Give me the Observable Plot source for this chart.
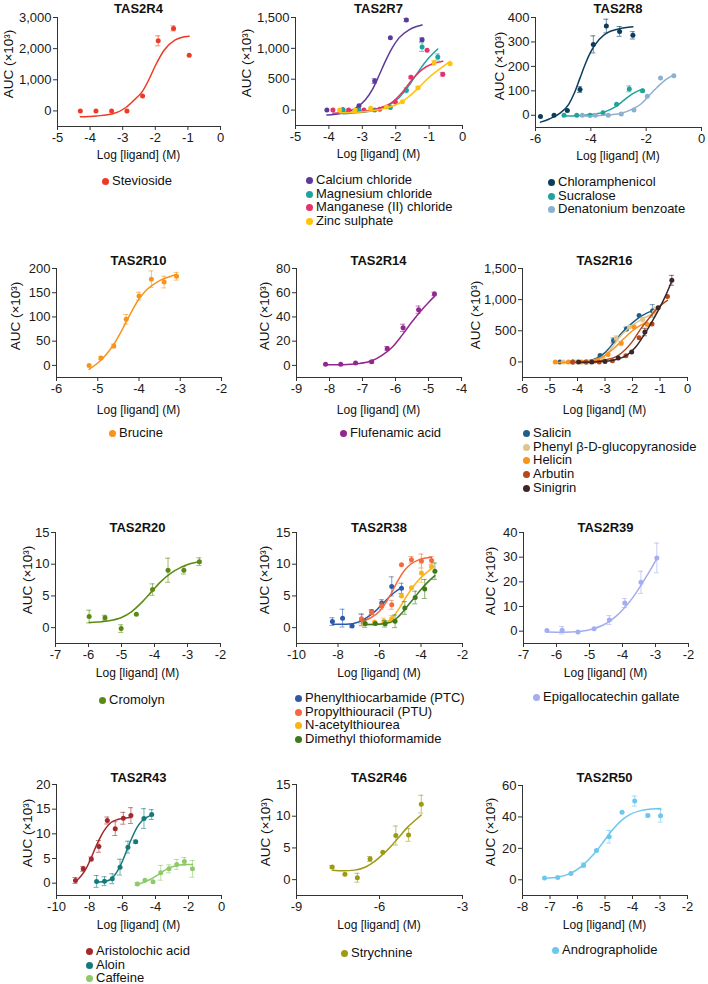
<!DOCTYPE html>
<html><head><meta charset="utf-8">
<script src="https://cdn.jsdelivr.net/npm/d3@7"></script>
<script src="https://cdn.jsdelivr.net/npm/@observablehq/plot@0.6"></script>
<style>
body{margin:0;background:#fff;font-family:"Liberation Sans",Arial,sans-serif;}
#root{position:relative;width:708px;height:984px;overflow:hidden;background:#fff;}
.abs{position:absolute;white-space:nowrap;color:#111;}
.title{font-weight:bold;font-size:13px;transform:translate(-50%,-50%);}
.xlab{font-size:12px;transform:translate(-50%,-50%);}
.ylab{font-size:13.5px;transform:translate(-50%,-50%) rotate(-90deg);}
.leg{font-size:13px;line-height:13.7px;}
.leg .d{display:inline-block;width:7px;height:7px;border-radius:50%;margin-right:3.5px;vertical-align:0px;}
svg{position:absolute;overflow:visible;}
</style></head><body><div id="root"></div>
<script>
// ---- data: [log concentration, AUC (x10^3), error] and fitted-curve points ----
// TAS2R4
const stevioside = [[-4.30,0,0],[-3.82,0,0],[-3.34,0,0],[-2.87,0,0],[-2.39,480,0],[-1.91,2250,160],[-1.44,2650,80],[-0.96,1790,0]];
const steviosideFit = [[-4.30,-190],[-3.8,-160],[-3.3,-90],[-2.9,110],[-2.6,400],[-2.4,620],[-2.2,1000],[-2.0,1450],[-1.73,1950],[-1.4,2270],[-1.2,2360],[-0.96,2400]];
// TAS2R7
const calcium = [[-4.06,0,0],[-3.58,5,0],[-3.10,70,0],[-2.63,470,40],[-2.16,1170,0],[-1.68,1460,25],[-1.21,1140,30]];
const calciumFit = [[-4.06,-80],[-3.6,-50],[-3.2,30],[-2.9,170],[-2.7,330],[-2.5,560],[-2.3,800],[-2.1,1010],[-1.9,1170],[-1.6,1300],[-1.4,1350],[-1.21,1380]];
const magnesium = [[-3.58,0,0],[-3.10,0,0],[-2.63,0,0],[-2.16,40,0],[-1.68,320,40],[-1.21,1020,70],[-0.74,860,50]];
const magnesiumFit = [[-3.58,-60],[-3.1,-40],[-2.6,0],[-2.2,80],[-1.9,200],[-1.6,400],[-1.3,640],[-1.0,850],[-0.74,990]];
const manganese = [[-3.88,0,0],[-3.41,0,0],[-2.95,0,0],[-2.48,15,0],[-2.01,130,0],[-1.54,530,20],[-1.06,970,0],[-0.59,580,30]];
const manganeseFit = [[-3.88,-50],[-3.4,-40],[-2.9,-15],[-2.5,30],[-2.1,130],[-1.8,290],[-1.5,500],[-1.2,660],[-0.9,750],[-0.59,790]];
const zinc = [[-3.68,0,0],[-3.22,0,0],[-2.75,30,0],[-2.28,50,0],[-1.80,135,0],[-1.33,360,20],[-0.85,765,40],[-0.37,750,0]];
const zincFit = [[-3.68,-45],[-3.2,-35],[-2.7,-10],[-2.3,30],[-1.9,110],[-1.6,220],[-1.3,370],[-1.0,530],[-0.7,660],[-0.37,790]];
// TAS2R8
const chloramphenicol = [[-5.82,-5,0],[-5.33,0,0],[-4.85,20,0],[-4.39,105,12],[-3.91,290,35],[-3.44,365,28],[-2.96,343,20],[-2.48,327,15]];
const chloramphenicolFit = [[-5.82,-28],[-5.5,-15],[-5.1,10],[-4.8,45],[-4.6,90],[-4.4,150],[-4.2,210],[-4.0,260],[-3.7,310],[-3.4,338],[-3.0,353],[-2.48,362]];
const sucralose = [[-4.97,0,0],[-4.51,0,0],[-4.03,0,0],[-3.56,10,0],[-3.07,45,0],[-2.61,108,12],[-2.13,100,5]];
const sucraloseFit = [[-4.97,-3],[-4.5,-2],[-4.0,3],[-3.5,14],[-3.1,35],[-2.8,62],[-2.5,88],[-2.13,107]];
const denatonium = [[-4.31,0,0],[-3.84,0,0],[-3.37,0,0],[-2.90,5,0],[-2.44,22,0],[-1.96,78,0],[-1.48,152,0],[-1.00,162,0]];
const denatoniumFit = [[-4.31,-3],[-3.8,-2],[-3.3,2],[-2.9,8],[-2.5,25],[-2.2,45],[-1.9,80],[-1.6,115],[-1.3,145],[-1.0,165]];
// TAS2R10
const brucine = [[-5.21,0,0],[-4.92,15,3],[-4.61,40,4],[-4.31,95,10],[-4.00,143,8],[-3.70,178,17],[-3.39,172,12],[-3.09,184,8]];
const brucineFit = [[-5.21,-8],[-5.0,5],[-4.8,22],[-4.6,45],[-4.4,75],[-4.2,108],[-4.0,137],[-3.8,157],[-3.5,175],[-3.3,182],[-3.09,188]];
// TAS2R14
const flufenamic = [[-8.12,1,0],[-7.66,1,0],[-7.21,2,0],[-6.72,3,1],[-6.25,14,1.5],[-5.77,31,3],[-5.30,46,3],[-4.82,59,1.5]];
const flufenamicFit = [[-8.12,0.5],[-7.6,0.6],[-7.1,1.5],[-6.7,4],[-6.4,8.5],[-6.1,15],[-5.8,25],[-5.5,36],[-5.2,46],[-5.0,52],[-4.82,57]];
// TAS2R16
const salicin = [[-4.64,0,0],[-4.16,0,0],[-3.67,0,0],[-3.18,105,0],[-2.69,345,40],[-2.22,530,30],[-1.76,745,0],[-1.27,820,100]];
const salicinFit = [[-4.64,-10],[-4.2,-8],[-3.7,10],[-3.3,60],[-3.0,150],[-2.7,300],[-2.4,460],[-2.1,590],[-1.8,700],[-1.5,780],[-1.27,820]];
const phenylGlu = [[-4.52,0,0],[-4.04,0,0],[-3.56,0,0],[-3.07,60,0],[-2.59,380,40],[-2.11,560,0],[-1.63,680,40],[-1.20,800,80]];
const phenylGluFit = [[-4.52,-10],[-4.0,-5],[-3.5,15],[-3.1,70],[-2.8,200],[-2.5,380],[-2.2,520],[-1.9,620],[-1.6,700],[-1.2,790]];
const helicin = [[-4.81,0,0],[-4.33,0,0],[-3.85,0,0],[-3.37,10,0],[-2.89,120,0],[-2.41,300,30],[-1.94,560,0],[-1.46,600,0]];
const helicinFit = [[-4.81,-10],[-4.3,-8],[-3.8,0],[-3.4,30],[-3.0,100],[-2.6,250],[-2.3,380],[-2.0,500],[-1.7,590],[-1.46,640]];
const arbutin = [[-4.18,0,0],[-3.70,0,0],[-3.21,0,0],[-2.73,20,0],[-2.24,100,0],[-1.76,390,0],[-1.29,610,0],[-0.73,1050,0]];
const arbutinFit = [[-4.18,-5],[-3.5,0],[-3.0,30],[-2.5,110],[-2.0,330],[-1.7,530],[-1.4,700],[-1.1,860],[-0.73,990]];
const sinigrin = [[-3.96,0,0],[-3.48,0,0],[-3.00,5,0],[-2.52,65,0],[-2.03,160,0],[-1.55,480,60],[-1.07,870,0],[-0.57,1310,80]];
const sinigrinFit = [[-3.96,-5],[-3.4,0],[-3.0,10],[-2.6,40],[-2.2,110],[-1.9,230],[-1.6,420],[-1.3,640],[-1.0,880],[-0.8,1060],[-0.57,1300]];
// TAS2R20
const cromolyn = [[-5.98,1.75,1.0],[-5.50,1.55,0.4],[-5.01,-0.15,0.6],[-4.55,2.1,0],[-4.06,6.0,0.9],[-3.59,9.05,1.9],[-3.11,9.05,0.6],[-2.64,10.4,0.6]];
const cromolynFit = [[-5.98,0.8],[-5.5,1.0],[-5.0,1.6],[-4.7,2.5],[-4.4,3.9],[-4.1,5.6],[-3.8,7.3],[-3.5,8.6],[-3.2,9.5],[-2.9,10.1],[-2.64,10.4]];
// TAS2R38
const ptc = [[-8.27,0.95,0.6],[-7.78,1.5,1.4],[-7.32,0.25,0.2],[-6.85,1.2,0.9],[-6.37,2.45,0.4],[-5.89,3.9,0.5],[-5.41,6.5,1.5],[-4.94,6.2,0.8]];
const ptcFit = [[-8.27,0.55],[-7.6,0.55],[-7.0,0.9],[-6.6,1.6],[-6.2,2.6],[-5.9,3.6],[-5.6,4.6],[-5.3,5.5],[-4.94,6.3]];
const ptu = [[-6.87,1.4,0.8],[-6.37,2.4,0.3],[-5.89,3.4,0.5],[-5.41,3.6,0.7],[-4.94,9.9,0],[-4.46,10.7,0.5],[-3.98,10.5,1.1],[-3.49,10.6,0.6]];
const ptuFit = [[-6.87,1.0],[-6.4,1.6],[-6.0,2.6],[-5.7,3.9],[-5.4,5.6],[-5.1,7.5],[-4.8,9.0],[-4.5,10.0],[-4.1,10.7],[-3.49,11.1]];
const acetylthiourea = [[-6.72,0.6,0],[-6.24,0.9,0],[-5.79,1.0,0.5],[-5.41,1.4,0.5],[-4.94,5.0,0],[-4.46,6.3,0],[-3.98,8.6,1.5],[-3.49,9.6,0]];
const acetylthioureaFit = [[-6.72,0.5],[-6.2,0.55],[-5.7,0.8],[-5.4,1.5],[-5.1,2.8],[-4.8,4.4],[-4.5,5.9],[-4.2,7.2],[-3.9,8.2],[-3.49,9.3]];
const dimethylThio = [[-6.69,0.65,0.6],[-6.20,0.65,0],[-5.73,0.6,0.5],[-5.25,1.0,1.0],[-4.78,3.1,1.0],[-4.28,4.75,1.0],[-3.82,6.1,1.5],[-3.33,8.9,1.3]];
const dimethylThioFit = [[-6.69,0.5],[-6.0,0.55],[-5.5,0.8],[-5.2,1.4],[-4.9,2.4],[-4.6,3.6],[-4.3,4.8],[-4.0,6.0],[-3.7,7.1],[-3.33,8.2]];
// TAS2R39
const egcg = [[-6.29,0.3,0],[-5.83,0.4,1.5],[-5.35,-0.3,0],[-4.86,1.0,0],[-4.40,4.5,1.8],[-3.93,11.4,1.8],[-3.44,19.8,4.5],[-2.96,29.7,6.0]];
const egcgFit = [[-6.29,-0.3],[-5.8,-0.4],[-5.3,-0.1],[-4.9,0.9],[-4.6,2.4],[-4.3,4.9],[-4.0,8.6],[-3.7,13.4],[-3.4,19.5],[-3.2,23.8],[-2.96,29.4]];
// TAS2R43
const aristolochic = [[-8.85,0.55,0.6],[-8.38,2.9,0.5],[-7.89,4.9,0.4],[-7.43,7.45,1.2],[-6.92,12.7,0.7],[-6.44,11.05,1.4],[-5.95,13.15,1.2],[-5.49,13.7,1.6]];
const aristolochicFit = [[-8.85,0.3],[-8.5,1.5],[-8.2,3.0],[-7.9,5.1],[-7.6,7.5],[-7.3,9.6],[-7.0,11.2],[-6.7,12.3],[-6.3,12.9],[-5.8,13.2],[-5.49,13.3]];
const aloin = [[-7.57,0.35,1.2],[-7.09,0.4,0.9],[-6.62,0.9,1.0],[-6.15,3.25,1.6],[-5.67,7.3,1.2],[-5.20,8.4,0.3],[-4.70,13.1,2.0],[-4.23,13.9,1.0]];
const aloinFit = [[-7.57,0.2],[-7.0,0.4],[-6.6,1.1],[-6.3,2.5],[-6.0,4.5],[-5.7,7.0],[-5.4,9.4],[-5.1,11.4],[-4.8,12.7],[-4.5,13.4],[-4.23,13.8]];
const caffeine = [[-5.10,-0.15,0.3],[-4.64,0.6,0],[-4.15,0.3,0],[-3.68,2.1,1.5],[-3.18,2.9,0.8],[-2.71,3.8,1.0],[-2.25,4.4,0.8],[-1.76,2.9,1.7]];
const caffeineFit = [[-5.1,-0.2],[-4.7,0.2],[-4.3,0.8],[-3.9,1.6],[-3.5,2.5],[-3.1,3.2],[-2.7,3.6],[-2.2,3.8],[-1.76,3.8]];
// TAS2R46
const strychnine = [[-7.71,2.0,0.2],[-7.25,0.85,0],[-6.80,0.3,0.7],[-6.34,3.25,0.4],[-5.88,4.3,0],[-5.41,6.95,1.5],[-4.95,7.05,1.0],[-4.49,11.9,1.4]];
const strychnineFit = [[-7.71,1.5],[-7.3,1.4],[-6.9,1.5],[-6.5,2.0],[-6.2,2.8],[-5.9,3.9],[-5.6,5.2],[-5.3,6.7],[-5.0,8.2],[-4.7,9.4],[-4.49,10.2]];
// TAS2R50
const andrographolide = [[-7.20,1.1,0],[-6.72,1.5,0],[-6.24,4.0,0],[-5.78,9.2,1.5],[-5.31,18.6,0],[-4.85,27.4,4.0],[-4.38,43.0,0],[-3.92,50.1,3.2],[-3.44,40.9,1.0],[-2.98,40.7,4.0]];
const andrographolideFit = [[-7.2,1.0],[-6.7,1.8],[-6.3,3.8],[-5.9,7.9],[-5.6,12.8],[-5.3,18.5],[-5.0,25.5],[-4.7,32.3],[-4.4,37.8],[-4.1,41.5],[-3.7,44.0],[-3.3,45.0],[-2.98,45.3]];

// axis tick values
const ticksR4x = [-5,-4,-3,-2,-1,0], ticksR4y = [0,1000,2000,3000];
const ticksR7x = [-5,-4,-3,-2,-1,0], ticksR7y = [0,500,1000,1500];
const ticksR8x = [-6,-4,-2,0], ticksR8y = [0,100,200,300,400];
const ticksR10x = [-6,-5,-4,-3,-2], ticksR10y = [0,50,100,150,200];
const ticksR14x = [-9,-8,-7,-6,-5,-4], ticksR14y = [0,20,40,60,80];
const ticksR16x = [-6,-5,-4,-3,-2,-1,0], ticksR16y = [0,500,1000,1500];
const ticksR20x = [-7,-6,-5,-4,-3,-2], ticksR20y = [0,5,10,15];
const ticksR38x = [-10,-8,-6,-4,-2], ticksR38y = [0,5,10,15];
const ticksR39x = [-7,-6,-5,-4,-3,-2], ticksR39y = [0,10,20,30,40];
const ticksR43x = [-10,-8,-6,-4,-2,0], ticksR43y = [0,5,10,15,20];
const ticksR46x = [-9,-6,-3], ticksR46y = [0,5,10,15];
const ticksR50x = [-8,-7,-6,-5,-4,-3,-2], ticksR50y = [0,20,40,60];

// ---- panel layout (pixel positions) ----
const panels = [
 {title:"TAS2R4", ax:57, xr:220, yTop:17, yBot:126, xd:[-5,0], yd:[-500,3000], xt:ticksR4x, yt:ticksR4y, titleY:8, xlabDy:29, ylabX:8, legX:101.5, legY:181,
  series:[{name:"Stevioside", color:"#ee3a24", pts:stevioside, fit:steviosideFit}]},
 {title:"TAS2R7", ax:295, xr:462, yTop:17, yBot:125, xd:[-5,0], yd:[-250,1500], xt:ticksR7x, yt:ticksR7y, titleY:8, xlabDy:29, ylabX:246, legX:305.5, legY:180,
  series:[{name:"Calcium chloride", color:"#5b3a9c", pts:calcium, fit:calciumFit},
          {name:"Magnesium chloride", color:"#1fa39e", pts:magnesium, fit:magnesiumFit},
          {name:"Manganese (II) chloride", color:"#e2336b", pts:manganese, fit:manganeseFit},
          {name:"Zinc sulphate", color:"#ffc20e", pts:zinc, fit:zincFit}]},
 {title:"TAS2R8", ax:535, xr:701, yTop:17, yBot:127, xd:[-6,0], yd:[-50,400], xt:ticksR8x, yt:ticksR8y, titleY:8, xlabDy:29, ylabX:499, legX:547.5, legY:182,
  series:[{name:"Chloramphenicol", color:"#0b3d5c", pts:chloramphenicol, fit:chloramphenicolFit},
          {name:"Sucralose", color:"#1fa39a", pts:sucralose, fit:sucraloseFit},
          {name:"Denatonium benzoate", color:"#8db0cf", pts:denatonium, fit:denatoniumFit}]},
 {title:"TAS2R10", ax:56, xr:221, yTop:268, yBot:377, xd:[-6,-2], yd:[-25,200], xt:ticksR10x, yt:ticksR10y, titleY:260, xlabDy:33, ylabX:15, legX:108.5, legY:433,
  series:[{name:"Brucine", color:"#f7941d", pts:brucine, fit:brucineFit}]},
 {title:"TAS2R14", ax:296, xr:461, yTop:268, yBot:377, xd:[-9,-4], yd:[-10,80], xt:ticksR14x, yt:ticksR14y, titleY:260, xlabDy:33, ylabX:264, legX:339.5, legY:433,
  series:[{name:"Flufenamic acid", color:"#92278f", pts:flufenamic, fit:flufenamicFit}]},
 {title:"TAS2R16", ax:522, xr:687, yTop:268, yBot:377, xd:[-6,0], yd:[-250,1500], xt:ticksR16x, yt:ticksR16y, titleY:260, xlabDy:33, ylabX:475, legX:522.5, legY:433,
  series:[{name:"Salicin", color:"#1f5f86", pts:salicin, fit:salicinFit},
          {name:"Phenyl β-D-glucopyranoside", color:"#e0c48e", pts:phenylGlu, fit:phenylGluFit},
          {name:"Helicin", color:"#f7941d", pts:helicin, fit:helicinFit},
          {name:"Arbutin", color:"#b7471d", pts:arbutin, fit:arbutinFit},
          {name:"Sinigrin", color:"#3d2626", pts:sinigrin, fit:sinigrinFit}]},
 {title:"TAS2R20", ax:55, xr:220, yTop:532, yBot:643, xd:[-7,-2], yd:[-2.5,15], xt:ticksR20x, yt:ticksR20y, titleY:527, xlabDy:30, ylabX:27, legX:98.5, legY:700,
  series:[{name:"Cromolyn", color:"#5b8a14", pts:cromolyn, fit:cromolynFit}]},
 {title:"TAS2R38", ax:296, xr:462, yTop:532, yBot:643, xd:[-10,-2], yd:[-2.5,15], xt:ticksR38x, yt:ticksR38y, titleY:527, xlabDy:30, ylabX:264, legX:294.5, legY:698,
  series:[{name:"Phenylthiocarbamide (PTC)", color:"#2c5aa8", pts:ptc, fit:ptcFit},
          {name:"Propylthiouracil (PTU)", color:"#f26a3d", pts:ptu, fit:ptuFit},
          {name:"N-acetylthiourea", color:"#f9b31b", pts:acetylthiourea, fit:acetylthioureaFit},
          {name:"Dimethyl thioformamide", color:"#3f7a1a", pts:dimethylThio, fit:dimethylThioFit}]},
 {title:"TAS2R39", ax:523, xr:688, yTop:532, yBot:643, xd:[-7,-2], yd:[-5,40], xt:ticksR39x, yt:ticksR39y, titleY:527, xlabDy:30, ylabX:490, legX:532.5, legY:697,
  series:[{name:"Epigallocatechin gallate", color:"#a3adf0", pts:egcg, fit:egcgFit}]},
 {title:"TAS2R43", ax:56, xr:221, yTop:784, yBot:895, xd:[-10,0], yd:[-2.5,20], xt:ticksR43x, yt:ticksR43y, titleY:777, xlabDy:30, ylabX:27, legX:85.5, legY:951,
  series:[{name:"Aristolochic acid", color:"#a32a2c", pts:aristolochic, fit:aristolochicFit},
          {name:"Aloin", color:"#137a7a", pts:aloin, fit:aloinFit},
          {name:"Caffeine", color:"#8fca6a", pts:caffeine, fit:caffeineFit}]},
 {title:"TAS2R46", ax:296, xr:462, yTop:784, yBot:895, xd:[-9,-3], yd:[-2.5,15], xt:ticksR46x, yt:ticksR46y, titleY:777, xlabDy:30, ylabX:265, legX:340.5, legY:953,
  series:[{name:"Strychnine", color:"#9d9a14", pts:strychnine, fit:strychnineFit}]},
 {title:"TAS2R50", ax:522, xr:687, yTop:785, yBot:895, xd:[-8,-2], yd:[-10,60], xt:ticksR50x, yt:ticksR50y, titleY:777, xlabDy:30, ylabX:490, legX:551.5, legY:950,
  series:[{name:"Andrographolide", color:"#6cc7f0", pts:andrographolide, fit:andrographolideFit}]}
];

const root = document.getElementById("root");
const ML = 48, MR = 12, MT = 10, MB = 24;
const fmtX = d => (d < 0 ? "-" + Math.abs(d) : String(d));
const fmtY = d3.format(",");

function addDiv(cls, html, x, y) {
  const el = document.createElement("div");
  el.className = "abs " + cls;
  el.innerHTML = html;
  el.style.left = x + "px";
  el.style.top = y + "px";
  root.appendChild(el);
  return el;
}

for (const c of panels) {
  const pw = c.xr - c.ax, ph = c.yBot - c.yTop;
  const marks = [
    Plot.ruleX([c.xd[0]], {stroke: "#333", strokeWidth: 1}),
    Plot.ruleY([c.yd[0]], {stroke: "#333", strokeWidth: 1}),
    Plot.axisX({ticks: c.xt, tickSize: 4, tickPadding: 2, fontSize: 13, label: null, tickFormat: fmtX, stroke: "#333"}),
    Plot.axisY({ticks: c.yt, tickSize: 4, tickPadding: 2, fontSize: 13, label: null, tickFormat: fmtY, stroke: "#333"})
  ];
  for (const s of c.series) {
    const eb = s.pts.filter(d => d[2] > 0);
    marks.push(Plot.line(s.fit, {x: d => d[0], y: d => d[1], stroke: s.color, strokeWidth: 1.5, curve: "monotone-x"}));
    marks.push(Plot.ruleX(eb, {x: d => d[0], y1: d => d[1] - d[2], y2: d => d[1] + d[2], stroke: s.color, strokeOpacity: 0.6, strokeWidth: 1}));
    marks.push(Plot.ruleY(eb, {y: d => d[1] + d[2], x1: d => d[0], x2: d => d[0], insetLeft: -2.5, insetRight: -2.5, stroke: s.color, strokeOpacity: 0.6}));
    marks.push(Plot.ruleY(eb, {y: d => d[1] - d[2], x1: d => d[0], x2: d => d[0], insetLeft: -2.5, insetRight: -2.5, stroke: s.color, strokeOpacity: 0.6}));
    marks.push(Plot.dot(s.pts, {x: d => d[0], y: d => d[1], fill: s.color, r: 2.5}));
  }
  const svg = Plot.plot({
    width: ML + pw + MR, height: MT + ph + MB,
    marginLeft: ML, marginRight: MR, marginTop: MT, marginBottom: MB,
    x: {domain: c.xd}, y: {domain: c.yd},
    style: {fontFamily: "'Liberation Sans', Arial, sans-serif", fontSize: "13px", color: "#1a1a1a", background: "transparent", overflow: "visible"},
    marks
  });
  svg.style.left = (c.ax - ML) + "px";
  svg.style.top = (c.yTop - MT) + "px";
  root.appendChild(svg);

  const cx = (c.ax + c.xr) / 2;
  addDiv("title", c.title, cx, c.titleY);
  addDiv("xlab", "Log [ligand] (M)", cx, c.yBot + c.xlabDy);
  const y0 = c.yBot - (0 - c.yd[0]) / (c.yd[1] - c.yd[0]) * ph;
  addDiv("ylab", "AUC (×10³)", c.ylabX, (c.yTop + y0) / 2);
  addDiv("leg", c.series.map(s => `<div><span class="d" style="background:${s.color}"></span>${s.name}</div>`).join(""), c.legX, c.legY - 7);
}
</script></body></html>
